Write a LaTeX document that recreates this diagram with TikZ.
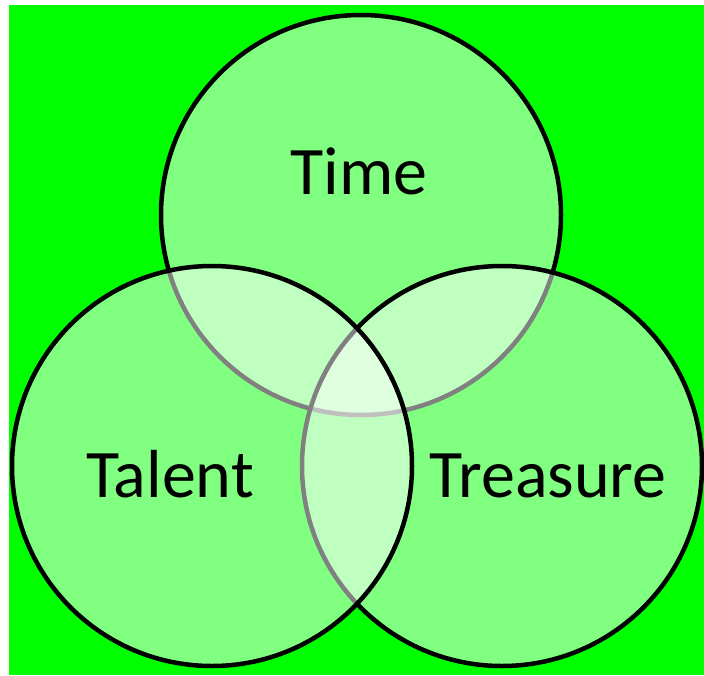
\documentclass[tikz,border=0pt]{standalone}
\usepackage{fontspec}
\setmainfont{Carlito}

\begin{document}
\begin{tikzpicture}[x=1pt,y=-1pt]
\tikzset{rond/.style={circle, draw=black, line width=4.5pt, fill=white, fill opacity=0.5, minimum size=400pt, inner sep=0pt},
  mot/.style={anchor=base, inner sep=0pt, font=\fontsize{68}{72}\selectfont}}
\useasboundingbox (0,0) rectangle (704,675);
\fill[green] (9,5) rectangle (704,675);
\node[rond] (Time) at (361,215) {};
\node[rond] (Treasure) at (502,466) {};
\node[rond] (Talent) at (212,466) {};
\node[mot] (LTime) at (359,194) {Time};
\node[mot] (LTalent) at (170,497) {Talent};
\node[mot] (LTreasure) at (548,497) {Treasure};
\end{tikzpicture}
\end{document}
